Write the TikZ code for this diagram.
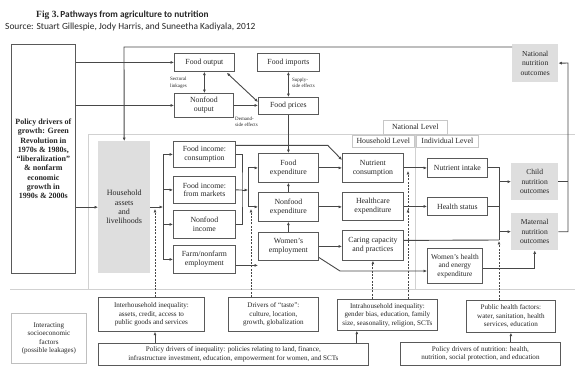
\documentclass[tikz,border=0pt]{standalone}
\usepackage{fontspec}
\setmainfont{Liberation Serif}
\newfontfamily\carlito{Carlito}
\usetikzlibrary{arrows.meta}

\begin{document}
\begin{tikzpicture}[x=1pt,y=-1pt,
  >={Latex[length=3.4pt,width=3pt]},
  every node/.style={text=black!85},
  box/.style={draw=black!65,line width=0.8pt,fill=white,anchor=north west,align=center,inner sep=0pt,font=\fontsize{7.8}{8.8}\selectfont},
  low/.style={box,font=\fontsize{7.1}{8.4}\selectfont},
  outc/.style={fill=black!13,anchor=north west,align=center,inner sep=0pt,font=\fontsize{7.6}{9.6}\selectfont},
  tab/.style={draw=black!22,line width=0.6pt,fill=white,anchor=north west,inner sep=0pt,font=\fontsize{7.8}{8}\selectfont},
  tiny/.style={align=left,anchor=west,inner sep=0pt,font=\fontsize{5}{6.5}\selectfont},
  line/.style={draw=black!72,line width=0.9pt},
  dotline/.style={line,dash pattern=on 2pt off 1.3pt},
  frame/.style={draw=black!18,line width=0.7pt}]
\useasboundingbox (0,0) rectangle (575,367);

\node[anchor=base west,inner sep=0pt] (ttl) at (36,17) {\fontsize{9.5}{10}\selectfont\bfseries Fig 3.\,{\carlito\fontsize{9.3}{10}\selectfont\bfseries Pathways from agriculture to nutrition}};
\node[anchor=base west,inner sep=0pt] (src) at (5,29) {\carlito\fontsize{9.4}{10}\selectfont Source: Stuart Gillespie, Jody Harris, and Suneetha Kadiyala, 2012};

% frames and levels
\draw[frame] (88,289) -- (88,134) -- (575,134);
\draw[frame] (10,289) -- (575,289);
\draw[frame] (415,134) -- (415,289);
\node[tab,minimum width=64,minimum height=14] (natl) at (383,120) {National Level};
\node[tab,minimum width=62,minimum height=12] (hhl) at (352,135) {Household Level};
\node[tab,minimum width=62,minimum height=12] (indl) at (416,135) {Individual Level};

% boxes
\node[box,minimum width=64,minimum height=229,font=\bfseries\fontsize{8}{9.3}\selectfont] (pg) at (11,44) {Policy drivers of\\growth: Green\\Revolution in\\1970s \& 1980s,\\``liberalization''\\\& nonfarm\\economic\\growth in\\1990s \& 2000s};
\node[box,minimum width=60,minimum height=18] (fo) at (174,53) {Food output};
\node[box,minimum width=62,minimum height=18] (fi) at (257,53) {Food imports};
\node[box,minimum width=59,minimum height=24] (no) at (174,93) {Nonfood\\output};
\node[box,minimum width=60,minimum height=17] (fp) at (258,97) {Food prices};
\node[outc,minimum width=46,minimum height=38] (nat) at (512,44) {National\\nutrition\\outcomes};
\node[outc,minimum width=52,minimum height=132,font=\fontsize{8}{9.3}\selectfont] (hh) at (98,141) {Household\\assets\\and\\livelihoods};

\node[box,minimum width=62,minimum height=26] (ic) at (173,141) {Food income:\\consumption};
\node[box,minimum width=62,minimum height=27] (im) at (173,176) {Food income:\\from markets};
\node[box,minimum width=62,minimum height=28] (ni) at (173,210) {Nonfood\\income};
\node[box,minimum width=62,minimum height=28] (fe) at (173,245) {Farm/nonfarm\\employment};

\node[box,minimum width=60,minimum height=29] (fx) at (258,153) {Food\\expenditure};
\node[box,minimum width=60,minimum height=29] (nx) at (258,192) {Nonfood\\expenditure};
\node[box,minimum width=60,minimum height=28] (we) at (258,232) {Women's\\employment};

\node[box,minimum width=61,minimum height=29] (nc) at (342,153) {Nutrient\\consumption};
\node[box,minimum width=61,minimum height=28] (hc) at (342,192) {Healthcare\\expenditure};
\node[box,minimum width=61,minimum height=30] (cc) at (342,230) {Caring capacity\\and practices};

\node[box,minimum width=60,minimum height=19] (nin) at (427,158) {Nutrient intake};
\node[box,minimum width=60,minimum height=18] (hs) at (427,197) {Health status};
\node[box,minimum width=55,minimum height=35,font=\fontsize{7.4}{8.6}\selectfont] (wh) at (427,248) {Women's health\\and energy\\expenditure};

\node[outc,minimum width=47,minimum height=37] (co) at (511,163) {Child\\nutrition\\outcomes};
\node[outc,minimum width=47,minimum height=37] (mo) at (511,213) {Maternal\\nutrition\\outcomes};

\node[low,minimum width=75,minimum height=50,draw=black!25] (isf) at (11,313) {Interacting\\socioeconomic\\factors\\(possible leakages)};
\node[low,minimum width=106,minimum height=34] (ih) at (98,297) {Interhousehold inequality:\\assets, credit, access to\\public goods and services};
\node[low,minimum width=90,minimum height=34] (dt) at (228,297) {Drivers of ``taste'':\\culture, location,\\growth, globalization};
\node[low,minimum width=100,minimum height=31] (iah) at (337,299) {Intrahousehold inequality:\\gender bias, education, family\\size, seasonality, religion, SCTs};
\node[low,minimum width=89,minimum height=32] (ph) at (466,300) {Public health factors:\\water, sanitation, health\\services, education};
\node[low,minimum width=270,minimum height=22] (pdi) at (98,343) {Policy drivers of inequality: policies relating to land, finance,\\infrastructure investment, education, empowerment for women, and SCTs};
\node[low,minimum width=160,minimum height=23] (pdn) at (400,342) {Policy drivers of nutrition: health,\\nutrition, social protection, and education};

\node[tiny] (sl) at (170,83) {Sectoral\\linkages};
\node[tiny] (ss) at (292,83) {Supply-\\side effects};
\node[tiny] (ds) at (235,122) {Demand-\\side effects};

\coordinate (tl) at (124,47);
\coordinate (bus) at (163,207);
\coordinate (dh) at (155,209);
\coordinate (ib) at (242,190);
\coordinate (eb) at (248,190);
\coordinate (et) at (251,209);
\coordinate (d1) at (408,171);
\coordinate (d2) at (408,209);
\coordinate (ob) at (499,240);
\coordinate (rb) at (568,63);

% connectors
\draw[line,->] (nat.west |- tl) -- (tl) -- (hh.north);
\draw[line,->] (pg.east |- fo) -- (fo.west);
\draw[line,->] (pg.east |- no) -- (no.west);
\draw[line,->] (pg.east |- hh) -- (hh.west);
\draw[line,<->] (fo.south) -- (fo.south |- no.north);
\draw[line,<->] ([xshift=-8pt,yshift=-1pt]fo.south east) -- ([yshift=-5pt]fp.north west);
\draw[line,<->] (fi) -- (fp);
\draw[line,->] (no.east) -- (no.east -| fp.west);
\draw[line,->] (fp) -- (fx);

\draw[line,->] (hh.east |- bus) -- (bus);
\draw[line] (bus |- ic) -- (bus |- fe);
\foreach \b in {ic,im,ni,fe}
  \draw[line,->] (bus |- \b) -- (\b.west);
\draw[dotline,->] (dh |- ih.north) -- (dh);

\draw[line] (ic.east) -| (ib) |- (ni.east);
\draw[line] (im.east) -- (ib);
\draw[line,->] (ib) -- (eb);
\draw[line,->] (eb) |- (fx.west);
\draw[line,->] (eb) |- (nx.west);
\draw[dotline,->] (et |- dt.north) -- (et);
\draw[line,->] ([yshift=9pt]ic.east) -- ++(92,0) -- ([yshift=-7pt]nc.north west);
\draw[line,->] ([yshift=-6pt]fe.east) -- ([yshift=-6pt]fe.east -| we.west);

\draw[line,->] (we) -- (nx);
\draw[line,->] (nx) -- (fx);
\draw[line,->] (fx) -- (nc);
\draw[line,->] (nx.east) -- (nx.east -| hc.west);
\draw[line,->] (we.east) -- (we.east -| cc.west);
\draw[line,->] ([yshift=-11pt]we.east) -- (340,271) -- (wh.west |- 340,271);

\draw[line,->] (nc.east) -- (nc.east -| nin.west);
\draw[line,->] (hc.east) -- (hc.east -| hs.west);
\draw[dotline,->] (d1 |- iah.north) -- (d1);
\draw[dotline,->] (d1 |- iah.north) -- (d2);
\draw[dotline,->] (iah.north -| cc.south) -- (cc.south);

\draw[line] (nin.east) -| (ob);
\draw[line] (hs.east) -- (hs.east -| ob);
\draw[line] ([yshift=5pt]cc.east) -- (ob);
\draw[line,->] (ob |- co) -- (co.west);
\draw[line,->] (ob |- mo) -- (mo.west);
\draw[dotline,->] (ph.north -| ob) -- ([yshift=-1pt]ob);
\draw[line,->] ([yshift=-3pt]wh.east) -| (mo.south);
\draw[line] (co.east) -- (co.east -| rb);
\draw[line,->] (mo.east) -| (rb) -- (nat.east);

\draw[line,->] (pdi.north -| dh) -- (ih.south -| dh);
\draw[line,->] ([xshift=-12pt]pdi.north east) -- ([xshift=-12pt]pdi.north east |- iah.south);
\draw[line,->] (pdn.north -| ph.south) -- (ph.south);
\end{tikzpicture}
\end{document}
